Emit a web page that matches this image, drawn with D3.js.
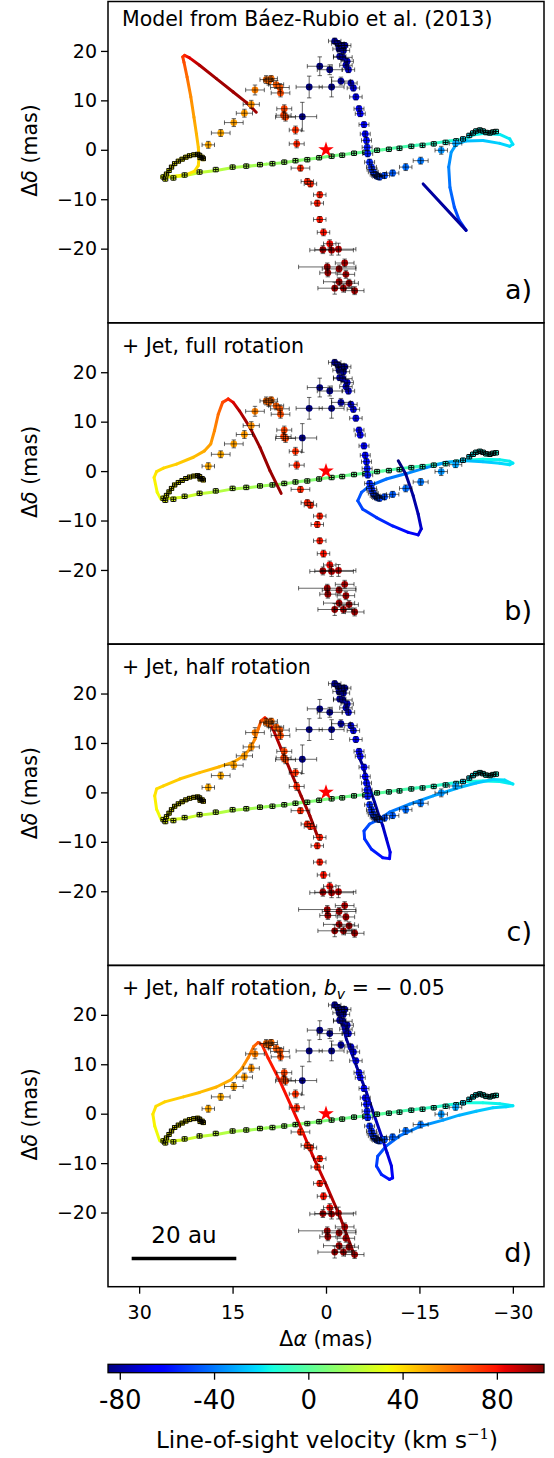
<!DOCTYPE html>
<html><head><meta charset="utf-8">
<script src="https://cdn.jsdelivr.net/npm/d3@7"></script>
<style>body{margin:0;background:#fff} text{font-family:"DejaVu Sans",sans-serif}</style>
</head><body><svg id="c" width="554" height="1458"></svg>
<script>
// ---------------- DATA ----------------
const xTicks = [30, 15, 0, -15, -30];
const yTicks = [-20, -10, 0, 10, 20];
const cbarTicks = [-80, -40, 0, 40, 80];
const panelTitles = ["Model from Báez-Rubio et al. (2013)", "+ Jet, full rotation", "+ Jet, half rotation", "+ Jet, half rotation, "];
const panelLetters = ["a)", "b)", "c)", "d)"];

// observed maser spots [x, y, v] along the disk (small errors)
const obsDisk = [
 [26.1,-5.5,32],[25.8,-5.9,32],[24.5,-5.7,30],[22.7,-5.1,27],[20.3,-4.5,25],[17.7,-4.0,22],[15.0,-3.5,20],
 [12.8,-3.3,18],[10.6,-3.0,17],[8.6,-2.8,15],[6.7,-2.5,13],[4.9,-2.2,12],[3.0,-2.0,10],[1.1,-1.6,9],
 [-0.9,-1.3,7],[-2.6,-1.1,6],[-4.5,-0.7,4],[-6.3,-0.5,2],[-8.2,-0.1,0],[-10.1,0.1,-2],[-11.8,0.3,-4],
 [-13.7,0.7,-6],[-15.5,0.9,-8],[-17.3,1.2,-10],[-19.2,1.5,-12],[-20.9,1.8,-14],[-22.0,2.2,-22],
 [-23.0,2.9,-21],[-23.6,3.4,-19],[-24.1,3.8,-18],[-24.7,4.0,-17],[-25.2,3.8,-17],[-25.7,3.5,-16],
 [-26.3,3.4,-16],[-26.8,3.6,-15],[-27.3,3.7,-15]
];
// observed spots on the upper yellow loop [x, y, v]
const obsLoop = [
 [25.6,-4.9,34],[25.2,-4.2,34],[24.8,-3.5,35],[24.3,-2.8,35],[23.7,-2.3,35],[23.1,-1.9,35],[22.5,-1.5,36],
 [21.9,-1.2,36],[21.2,-1.0,36],[20.6,-0.9,37],[20.3,-1.1,38],[19.9,-1.5,38],[19.7,-1.8,39],[20.2,-1.6,38]
];
// observed spots with larger errors [x, y, v, xerr, yerr]
const obsJet = [
 [18.9,1.0,50,1.0,0.7],[16.9,3.4,50,1.5,0.7],[14.8,5.5,52,1.5,0.8],[13.1,7.4,53,1.3,0.8],[12.0,9.2,55,1.3,0.8],
 [11.4,12.1,58,1.5,1.0],[9.6,14.2,62,1.0,0.8],[9.2,13.9,63,0.8,0.8],[8.8,14.4,62,1.0,0.6],[8.0,13.2,65,1.2,0.8],
 [7.4,12.6,66,1.5,0.8],[7.3,11.5,68,1.5,0.8],[6.7,8.3,70,1.2,0.8],[6.8,7.0,71,1.2,0.8],[6.5,6.6,70,1.6,0.8],
 [4.9,4.0,74,1.0,0.8],[4.7,1.2,76,1.2,0.8],
 [4.1,-3.7,76,1.5,0.6],[3.0,-6.4,77,1.0,0.6],[2.5,-6.9,77,1.0,0.6],[1.0,-9.1,78,1.0,0.6],[1.4,-10.8,78,1.0,0.6],
 [1.0,-14.1,79,1.0,0.6],[0.4,-16.7,80,1.0,0.7],[-0.6,-19.0,82,1.0,0.8],[0.5,-20.2,92,1.3,0.8],[-0.9,-20.3,93,3.5,1.0],
 [-2.0,-20.1,92,2.8,1.2],[-3.0,-22.9,93,1.5,0.8],[-0.2,-23.7,95,4.6,0.8],[-2.1,-24.1,95,2.7,0.8],[-0.3,-24.9,95,1.3,0.8],
 [-3.2,-25.2,95,1.4,0.8],[-2.1,-26.7,95,2.5,0.8],[-3.7,-27.0,96,1.5,0.8],[-1.4,-28.0,96,2.7,1.2],[-2.8,-28.0,96,1.5,0.8],
 [-4.6,-28.5,96,1.5,0.8],
 [-1.4,22.0,-82,1.0,0.6],[-1.9,21.5,-82,1.0,0.6],[-2.5,21.1,-82,1.0,0.6],[-3.0,21.1,-80,1.0,0.6],[-2.1,20.4,-82,1.0,0.6],
 [-2.8,20.1,-80,1.0,0.6],[-2.2,18.9,-78,1.0,0.6],[-2.7,18.7,-78,1.5,0.6],[-3.4,17.9,-76,1.0,0.6],[-3.2,17.1,-76,1.0,0.6],
 [-3.6,16.2,-74,1.0,0.6],[1.0,16.9,-85,2.0,1.9],[-0.6,16.2,-85,2.0,1.0],[-2.4,13.9,-80,1.5,0.8],[-4.0,13.5,-72,1.0,0.6],
 [-4.4,12.5,-70,1.0,0.6],[-4.8,10.7,-68,1.0,0.6],[2.7,12.7,-85,2.1,2.2],[-0.9,12.7,-85,2.0,2.0],[3.8,6.7,-85,2.3,2.9],
 [-5.3,8.3,-66,0.8,0.6],[-5.5,7.3,-65,0.8,0.6],[-6.1,5.1,-63,0.8,0.6],[-6.3,3.2,-62,0.8,0.6],[-6.5,1.9,-60,0.8,0.6],
 [-6.6,0.5,-58,0.8,0.6],[-6.7,-0.8,-57,0.8,0.6],[-7.0,-2.5,-55,0.8,0.6],[-7.3,-3.5,-55,0.8,0.6],[-7.4,-4.0,-54,0.8,0.6],
 [-7.6,-4.5,-53,0.8,0.6],[-7.9,-5.0,-52,0.8,0.6],[-8.1,-5.2,-52,0.8,0.6],[-8.3,-5.4,-51,0.8,0.6],[-8.6,-5.5,-50,0.8,0.6],
 [-9.4,-5.2,-48,0.8,0.6],[-10.7,-4.7,-45,1.0,0.6],[-12.8,-3.5,-42,1.0,0.7],[-15.2,-2.2,-40,1.2,0.7],[-18.5,-0.1,-35,1.0,0.8],
 [-20.8,1.3,-32,1.0,0.6]
];

// model curves [x, y, v]
const diskModel = [
 [26.4,-5.5,32],[25.0,-5.5,30],[22.9,-5.3,27],[20.3,-4.6,24],[17.6,-4.2,21],[14.9,-3.6,19],[12.2,-3.3,17],
 [9.6,-2.9,15],[6.9,-2.6,13],[4.2,-2.1,11],[1.6,-1.7,9],[-1.1,-1.2,7],[-3.8,-0.8,4],[-6.5,-0.4,2],[-9.1,0.0,0],
 [-11.8,0.5,-3],[-14.5,0.9,-6],[-17.2,1.3,-9],[-19.8,1.8,-12],[-22.5,2.2,-14]
];
const loopModel = [
 [26.4,-5.5,33],[25.6,-4.8,34],[25.0,-3.9,35],[24.3,-2.9,35],[23.5,-2.2,35],[22.5,-1.6,36],[21.5,-1.1,36],
 [20.6,-0.9,37],[20.1,-1.2,38],[19.8,-1.8,39]
];
const curveA_left = [
 [26.4,-5.5,32],[25.6,-5.4,33],[24.0,-5.3,35],[22.4,-5.0,37],[21.1,-4.3,39],[20.5,-3.2,41],[20.4,-1.5,43],
 [20.5,0.5,45],[20.8,3.2,48],[21.2,6.6,52],[21.7,10.7,56],[22.3,14.7,62],[22.8,17.7,68],[23.0,18.8,72],
 [22.7,19.1,76],[21.9,18.6,84],[20.3,17.1,92],[17.6,14.4,95],[14.9,11.7,95],[12.8,9.6,95],[11.2,7.6,95]
];
const curveA_right = [
 [-22.5,2.2,-14],[-23.6,3.0,-16],[-25.2,3.3,-18],[-27.9,3.1,-19],[-29.5,2.2,-20],[-30.0,1.1,-21],[-29.5,0.7,-22],
 [-27.9,1.3,-24],[-25.2,1.9,-26],[-22.5,1.8,-28],[-20.9,1.1,-31],[-20.1,-0.5,-34],[-19.7,-3.5,-38],[-19.9,-7.6,-42],
 [-20.6,-11.6,-46],[-21.4,-14.3,-50],[-22.5,-16.3,-54]
];
const curveA_jet = [[-22.5,-16.3,-80],[-15.6,-6.9,-80]];
const curveB_left = [
 [26.5,-5.7,32],[27.1,-4.3,34],[27.6,-1.3,37],[27.2,-0.1,39],[26.1,0.6,41],[24.0,1.4,43],[21.3,2.8,46],
 [19.5,4.1,50],[18.5,5.5,53],[17.9,8.2,57],[17.3,11.5,62],[16.6,13.9,68],[15.7,14.6,76],[14.9,13.9,85],
 [13.9,12.2,92],[12.2,8.8,95],[10.6,4.8,96],[9.0,0.1,96],[7.2,-4.5,96]
];
const curveB_right = [
 [-22.5,2.2,-14],[-25.2,2.4,-16],[-27.9,2.3,-18],[-29.5,2.0,-19],[-30.0,1.6,-20],[-29.5,1.3,-21],[-27.9,1.6,-23],
 [-25.2,1.9,-26],[-22.5,2.1,-28],[-19.3,1.8,-31],[-16.1,0.7,-35],[-12.9,-0.5,-38],[-9.7,-1.6,-41],[-7.0,-3.0,-44],
 [-5.7,-4.3,-46],[-5.1,-6.0,-48],[-5.9,-7.7,-50],[-8.1,-9.4,-53],[-10.7,-11.1,-57],[-13.2,-12.4,-62],[-14.8,-12.9,-67],
 [-15.3,-11.7,-72],[-14.8,-8.7,-77],[-14.0,-5.0,-80],[-12.8,-0.6,-83],[-11.6,2.1,-85]
];
const curveC_left = [
 [26.5,-5.4,32],[27.2,-3.4,35],[27.5,-0.7,38],[27.2,0.7,40],[26.1,1.3,42],[23.5,2.7,44],[20.3,4.0,46],
 [17.1,5.2,48],[14.9,6.1,50],[13.3,7.3,52],[12.2,8.8,54],[11.4,10.8,57],[10.9,12.8,61],[10.4,14.5,68],
 [9.8,15.1,76],[9.3,14.5,84],[8.5,12.8,90],[7.2,8.8,93],[5.6,4.0,94],[4.0,-0.7,95],[2.6,-4.7,95],[1.3,-9.1,95]
];
const curveC_right = [
 [-22.5,2.2,-14],[-25.2,2.3,-16],[-27.9,2.2,-18],[-30.0,1.7,-20],[-28.7,2.5,-21],[-26.8,2.6,-23],[-24.1,1.9,-26],
 [-21.4,1.0,-29],[-17.2,-0.7,-33],[-13.4,-2.4,-37],[-10.2,-4.0,-41],[-8.6,-5.4,-44],[-7.0,-6.4,-47],[-6.1,-7.8,-50],
 [-6.2,-9.4,-53],[-7.3,-11.5,-56],[-9.1,-13.2,-60],[-10.2,-13.4,-64],[-10.3,-12.1,-68],[-9.7,-9.4,-72],[-9.1,-6.7,-75],
 [-8.5,-4.7,-77],[-7.8,-2.0,-79],[-6.7,2.0,-81],[-5.9,5.4,-83],[-5.1,7.8,-84]
];
const curveD_left = [
 [26.7,-5.5,32],[27.5,-2.5,35],[27.8,-0.1,38],[27.3,1.5,40],[25.9,2.4,42],[22.9,3.4,44],[20.3,4.3,46],
 [17.6,5.4,48],[15.2,6.9,50],[13.6,9.0,53],[12.5,11.3,57],[11.6,13.6,62],[10.9,14.4,68],[10.3,14.0,74],
 [9.3,11.3,78],[7.4,6.6,80],[5.6,1.6,81],[3.7,-3.8,83],[2.1,-8.6,86],[-0.1,-14.6,90],[-2.2,-20.7,94],[-4.6,-28.8,97]
];
const curveD_right = [
 [-22.5,2.2,-14],[-25.2,2.2,-16],[-27.9,2.0,-18],[-30.0,1.6,-20],[-28.9,1.4,-22],[-26.8,1.2,-24],[-24.1,0.5,-27],
 [-21.4,-0.3,-30],[-18.8,-1.3,-33],[-15.0,-2.6,-37],[-11.8,-4.5,-41],[-9.7,-6.5,-45],[-8.3,-8.6,-49],[-8.1,-10.6,-52],
 [-8.9,-12.3,-56],[-10.2,-13.3,-60],[-10.7,-13.0,-64],[-10.5,-10.6,-68],[-9.8,-7.9,-71],[-8.9,-4.5,-74],[-7.8,-0.5,-76],
 [-6.5,4.3,-78],[-4.9,9.6,-80],[-3.3,15.0,-82],[-2.2,19.8,-84],[-1.4,22.1,-85]
];
const panelCurves = [
 [diskModel, loopModel, curveA_right, curveA_left, curveA_jet],
 [diskModel, loopModel, curveB_right, curveB_left],
 [diskModel, loopModel, curveC_right, curveC_left],
 [diskModel, loopModel, curveD_right, curveD_left]
];
const scaleBar = [[31.2, -29.3], [14.4, -29.3]];
const starPos = [0, 0];
const vDomain = [-85, 100];

// ---------------- DRAWING ----------------
const svg = d3.select("#c");
const L = 108, R = 544, PH = 321.3;
const PT = [1.5, 322.8, 644.1, 965.4];
const x = d3.scaleLinear([35, -35], [L, R]);
const tScale = d3.scaleLinear(vDomain, [0, 1]).clamp(true);
const chR = d3.scaleLinear([0,0.35,0.66,0.89,1],[0,0,1,1,0.5]).clamp(true);
const chG = d3.scaleLinear([0,0.125,0.375,0.64,0.91,1],[0,0,1,1,0,0]).clamp(true);
const chB = d3.scaleLinear([0,0.11,0.34,0.65,1],[0.5,1,1,0,0]).clamp(true);
const jetT = t => d3.rgb(255*chR(t), 255*chG(t), 255*chB(t)).formatHex();
const jet = v => jetT(tScale(v));
const defs = svg.append("defs");
const minus = d => d < 0 ? "\u2212" + Math.abs(d) : String(d);
let gid = 0;

PT.forEach((top, i) => {
  const y = d3.scaleLinear([-35, 30], [top + PH, top]);
  const g = svg.append("g");
  const clipId = "clip" + i;
  defs.append("clipPath").attr("id", clipId).append("rect")
    .attr("x", L).attr("y", top).attr("width", R - L).attr("height", PH);
  const plot = g.append("g").attr("clip-path", `url(#${clipId})`);

  // model curves (gradient segments)
  panelCurves[i].forEach(curve => {
    for (let k = 0; k < curve.length - 1; k++) {
      const a = curve[k], b = curve[k + 1];
      const id = "gr" + (gid++);
      const gr = defs.append("linearGradient").attr("id", id).attr("gradientUnits", "userSpaceOnUse")
        .attr("x1", x(a[0])).attr("y1", y(a[1])).attr("x2", x(b[0])).attr("y2", y(b[1]));
      gr.append("stop").attr("offset", 0).attr("stop-color", jet(a[2]));
      gr.append("stop").attr("offset", 1).attr("stop-color", jet(b[2]));
      plot.append("line").attr("x1", x(a[0])).attr("y1", y(a[1])).attr("x2", x(b[0])).attr("y2", y(b[1]))
        .attr("stroke", `url(#${id})`).attr("stroke-width", 3).attr("stroke-linecap", "round");
    }
  });

  // observed spots
  const drawObs = (arr, r, ex, ey, op, cap) => {
    arr.forEach(d => {
      plot.append("circle").attr("cx", x(d[0])).attr("cy", y(d[1])).attr("r", r).attr("fill", jet(d[2]));
    });
    const eb = plot.append("g").attr("stroke", "#000").attr("stroke-width", 1).attr("stroke-opacity", op).attr("fill", "none");
    arr.forEach(d => {
      const xe = d.length > 3 ? d[3] : ex, ye = d.length > 3 ? d[4] : ey;
      const cx = x(d[0]), cy = y(d[1]);
      const x0 = x(d[0] + xe), x1 = x(d[0] - xe), y0 = y(d[1] - ye), y1 = y(d[1] + ye);
      eb.append("path").attr("d",
        `M${x0},${cy}H${x1}M${cx},${y0}V${y1}` +
        `M${x0},${cy-cap}V${cy+cap}M${x1},${cy-cap}V${cy+cap}` +
        `M${cx-cap},${y0}H${cx+cap}M${cx-cap},${y1}H${cx+cap}`);
    });
  };
  drawObs(obsDisk, 2.6, 0.4, 0.45, 0.95, 2.2);
  drawObs(obsLoop, 2.6, 0.35, 0.4, 0.95, 2.2);
  drawObs(obsJet, 3.4, 1, 1, 0.6, 2.2);

  // star
  plot.append("path").attr("d", d3.symbol(d3.symbolStar, 75)())
    .attr("transform", `translate(${x(starPos[0])},${y(starPos[1])})`).attr("fill", "#ff0000");

  // frame
  g.append("rect").attr("x", L).attr("y", top).attr("width", R - L).attr("height", PH)
    .attr("fill", "none").attr("stroke", "#000").attr("stroke-width", 1.5);

  // y axis
  const ya = g.append("g").attr("transform", `translate(${L},0)`)
    .call(d3.axisLeft(y).tickValues(yTicks).tickSize(7).tickPadding(4).tickFormat(minus));
  ya.select(".domain").remove();
  ya.selectAll("line").attr("stroke-width", 1.3);
  ya.selectAll("text").attr("font-size", 19).attr("font-family", "DejaVu Sans").attr("fill", "#000");

  g.append("text").attr("transform", `translate(37,${top + 149}) rotate(-90)`)
    .attr("text-anchor", "middle").attr("font-size", 20.5)
    .html('Δ<tspan font-style="italic">δ</tspan> (mas)');

  // title
  const tt = g.append("text").attr("x", 122).attr("y", top + (i === 0 ? 24.5 : 29.8)).attr("font-size", 20.5)
    .text(panelTitles[i]);
  if (i === 3) {
    tt.append("tspan").attr("font-style", "italic").text("b");
    tt.append("tspan").attr("font-style", "italic").attr("font-size", 14).attr("dy", 4).text("v");
    tt.append("tspan").attr("dy", -4).text(" = \u2212 0.05");
  }
  // letter
  g.append("text").attr("x", 532).attr("y", top + 297).attr("text-anchor", "end").attr("font-size", 27)
    .text(panelLetters[i]);

  if (i === 3) {
    g.append("line").attr("x1", x(scaleBar[0][0])).attr("x2", x(scaleBar[1][0]))
      .attr("y1", y(scaleBar[0][1])).attr("y2", y(scaleBar[1][1])).attr("stroke", "#000").attr("stroke-width", 3.5);
    g.append("text").attr("x", (x(scaleBar[0][0]) + x(scaleBar[1][0])) / 2).attr("y", y(scaleBar[0][1]) - 16)
      .attr("text-anchor", "middle").attr("font-size", 23).text("20 au");
    const xa = g.append("g").attr("transform", `translate(0,${top + PH})`)
      .call(d3.axisBottom(x).tickValues(xTicks).tickSize(7).tickPadding(12).tickFormat(minus));
    xa.select(".domain").remove();
    xa.selectAll("line").attr("stroke-width", 1.3);
    xa.selectAll("text").attr("font-size", 19).attr("font-family", "DejaVu Sans").attr("fill", "#000");
    g.append("text").attr("x", 326).attr("y", 1346).attr("text-anchor", "middle").attr("font-size", 20.5)
      .html('Δ<tspan font-style="italic">α</tspan> (mas)');
  }
});

// colorbar
const cb = d3.scaleLinear(vDomain, [L, R]);
const cg = defs.append("linearGradient").attr("id", "cbar");
d3.range(0, 1.0001, 0.01).forEach(t => cg.append("stop").attr("offset", t).attr("stop-color", jetT(t)));
svg.append("rect").attr("x", L).attr("y", 1364.3).attr("width", R - L).attr("height", 8.4)
  .attr("fill", "url(#cbar)").attr("stroke", "#000").attr("stroke-width", 1.3);
const ca = svg.append("g").attr("transform", "translate(0,1372.7)")
  .call(d3.axisBottom(cb).tickValues(cbarTicks).tickSize(7).tickPadding(11).tickFormat(d => String(d)));
ca.select(".domain").remove();
ca.selectAll("line").attr("stroke-width", 1.3);
ca.selectAll("text").attr("font-size", 26).attr("font-family", "Liberation Sans").attr("fill", "#000");
svg.append("text").attr("x", 327).attr("y", 1448).attr("text-anchor", "middle")
  .attr("font-family", "Liberation Sans").attr("font-size", 23)
  .html('Line-of-sight velocity (km s<tspan dy="-9" font-size="15" font-family="DejaVu Serif">\u22121</tspan><tspan dy="9">)</tspan>');
</script></body></html>
